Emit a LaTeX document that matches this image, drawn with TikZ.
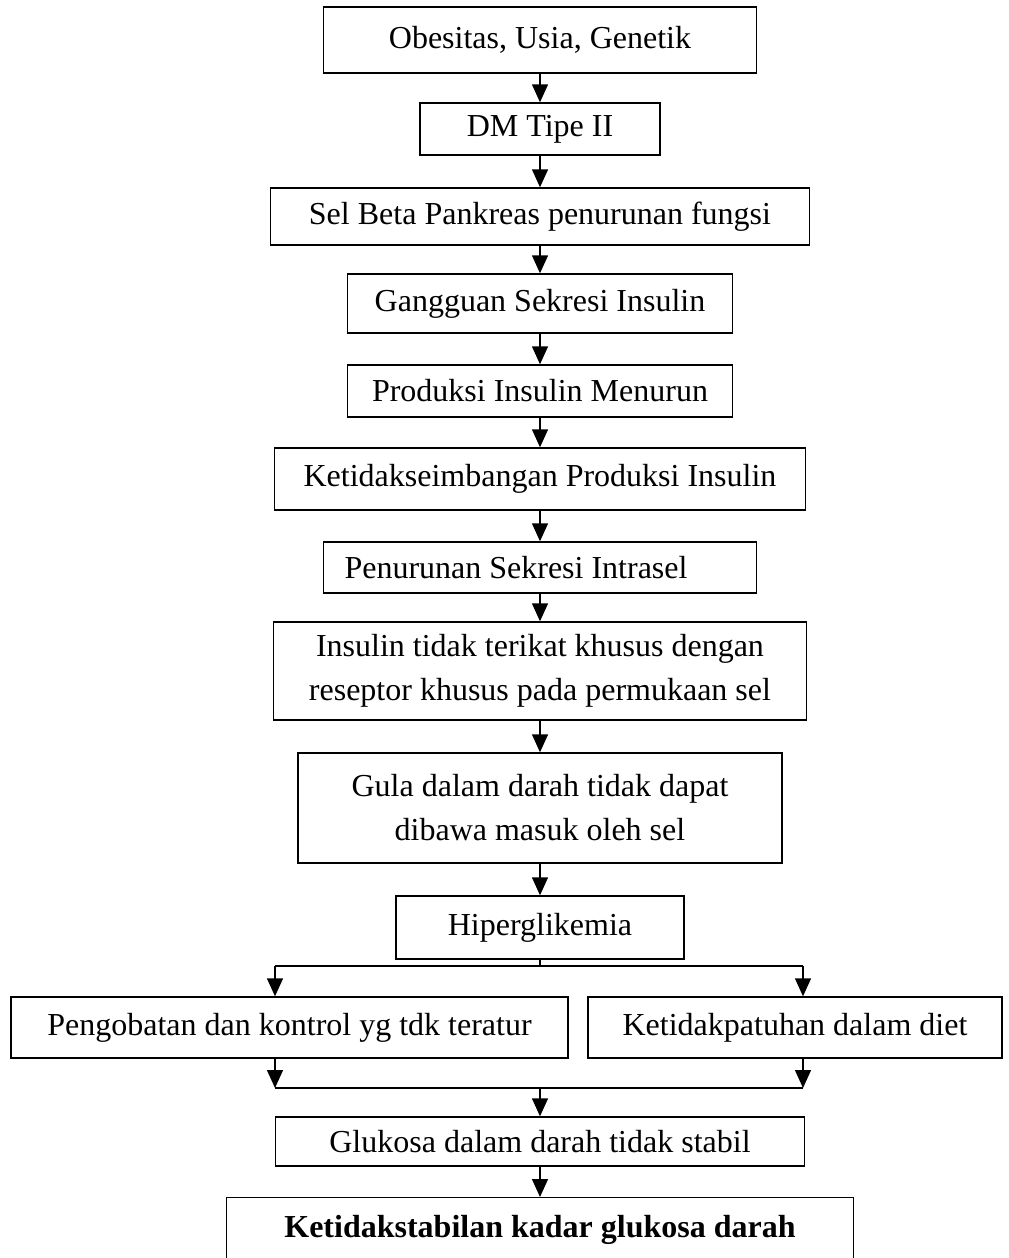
\documentclass[tikz,border=0pt]{standalone}
\usepackage{fontspec}
\setmainfont{Liberation Serif}
\usetikzlibrary{arrows.meta}

\begin{document}
\begin{tikzpicture}[x=0.5pt,y=-0.5pt,>={Triangle[width=8pt,length=9pt]},line width=0.7pt]
\tikzset{kotak/.style={draw, inner sep=0pt, align=center, font=\fontsize{16pt}{22pt}\selectfont}}
\useasboundingbox (0,0) rectangle (1008,1258);
\clip (0,0) rectangle (1008,1258);
% kolom utama
\node[kotak, minimum width=216.5pt, minimum height=33pt] (faktor) at (540,40) {Obesitas, Usia, Genetik};
\node[kotak, minimum width=120pt, minimum height=26pt] (dm) at (540,129) {DM Tipe II};
\node[kotak, minimum width=269.5pt, minimum height=28.5pt] (selbeta) at (540,216.5) {Sel Beta Pankreas penurunan fungsi};
\node[kotak, minimum width=192.5pt, minimum height=29.5pt] (gangguan) at (540,303.5) {Gangguan Sekresi Insulin};
\node[kotak, minimum width=192.5pt, minimum height=26pt] (produksi) at (540,391) {Produksi Insulin Menurun};
\node[kotak, minimum width=265.5pt, minimum height=31pt] (seimbang) at (540,479) {Ketidakseimbangan Produksi Insulin};
\node[kotak, align=flush left, text width=195.5pt, inner xsep=10.5pt, minimum height=25.5pt] (intrasel) at (540,567.5) {Penurunan Sekresi Intrasel};
\node[kotak, minimum width=266.5pt, minimum height=49pt] (reseptor) at (540,671) {Insulin tidak terikat khusus dengan\\reseptor khusus pada permukaan sel};
\node[kotak, minimum width=242pt, minimum height=55pt] (gula) at (540,808) {Gula dalam darah tidak dapat\\dibawa masuk oleh sel};
\node[kotak, minimum width=144pt, minimum height=31.5pt] (hiper) at (540,927.5) {Hiperglikemia};
% cabang
\node[kotak, minimum width=278.5pt, minimum height=30.5pt] (obat) at (289.5,1027.5) {Pengobatan dan kontrol yg tdk teratur};
\node[kotak, minimum width=207pt, minimum height=30.5pt] (diet) at (795,1027.5) {Ketidakpatuhan dalam diet};
\node[kotak, minimum width=264.5pt, minimum height=24.5pt] (glukosa) at (540,1141.5) {Glukosa dalam darah tidak stabil};
\node[kotak, anchor=north, minimum width=313.5pt, text height=20pt, text depth=22pt, font=\fontsize{16pt}{22pt}\selectfont\bfseries] (kadar) at (540,1197) {Ketidakstabilan kadar glukosa darah};
% panah
\foreach \a/\b in {faktor/dm, dm/selbeta, selbeta/gangguan, gangguan/produksi, produksi/seimbang, seimbang/intrasel, intrasel/reseptor, reseptor/gula, gula/hiper, glukosa/kadar}
  \draw[->] (\a) -- (\b);
\coordinate (cabangkiri) at (275,966);
\coordinate (cabangkanan) at (803,966);
\coordinate (gabungkiri) at (275,1088);
\coordinate (gabungkanan) at (803,1088);
\draw (hiper) -- (hiper.south |- cabangkiri);
\draw (cabangkiri) -- (cabangkanan);
\draw[->] (cabangkiri) -- (cabangkiri |- obat.north);
\draw[->] (cabangkanan) -- (cabangkanan |- diet.north);
\draw[->] (gabungkiri |- obat.south) -- (gabungkiri);
\draw[->] (gabungkanan |- diet.south) -- (gabungkanan);
\draw (gabungkiri) -- (gabungkanan);
\draw[->] (glukosa.north |- gabungkiri) -- (glukosa);
\end{tikzpicture}
\end{document}
